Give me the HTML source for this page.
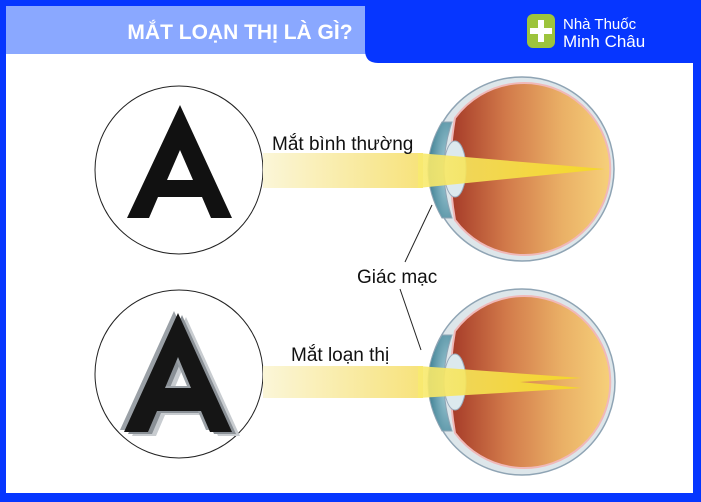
<!DOCTYPE html>
<html><head><meta charset="utf-8"><style>
body{margin:0;width:701px;height:502px;overflow:hidden;background:#0636ff;font-family:"Liberation Sans","Noto Sans CJK SC",sans-serif}
svg{display:block}
</style></head><body>
<svg width="701" height="502" viewBox="0 0 701 502" xmlns="http://www.w3.org/2000/svg">
<defs>
<linearGradient id="beam" x1="0" x2="1" y1="0" y2="0">
<stop offset="0" stop-color="#fbf6d8"/><stop offset="1" stop-color="#f7e27a"/></linearGradient>
<linearGradient id="inner" x1="0" x2="1" y1="0" y2="0">
<stop offset="0" stop-color="#a53a28"/><stop offset="0.35" stop-color="#d27a4a"/><stop offset="0.7" stop-color="#eab066"/><stop offset="1" stop-color="#f6d07a"/></linearGradient>
<linearGradient id="ray" x1="0" x2="1"><stop offset="0" stop-color="#f8ea70"/><stop offset="1" stop-color="#f5d820"/></linearGradient>
<radialGradient id="cor" cx="0.8" cy="0.5" r="0.9"><stop offset="0" stop-color="#a8d0dc"/><stop offset="1" stop-color="#2f7488"/></radialGradient>
</defs>
<rect width="701" height="502" fill="#0636ff"/>
<rect x="6" y="6" width="687" height="487" fill="#fff"/>
<rect x="6" y="6" width="362" height="48" fill="#8aa8ff"/>
<path d="M365 0 H701 V63 H378 Q365 63 365 50 Z" fill="#0636ff"/>
<text x="240" y="39" text-anchor="middle" font-size="21" font-weight="bold" fill="#fff">MẮT LOẠN THỊ LÀ GÌ?</text>
<rect x="527" y="14" width="28" height="34" rx="6" fill="#9dc43c"/>
<rect x="538" y="20" width="6" height="22" fill="#fff"/><rect x="530" y="28" width="22" height="6" fill="#fff"/>
<text x="563" y="29" font-size="15" fill="#fff">Nhà Thuốc</text>
<text x="563" y="47" font-size="17" fill="#fff">Minh Châu</text>

<circle cx="179" cy="170" r="84" fill="#fff" stroke="#222" stroke-width="1"/>
<circle cx="179" cy="374" r="84" fill="#fff" stroke="#222" stroke-width="1"/>
<path d="M180 105 L232 218 L211 218 L202 197 L158 197 L149 218 L127 218 Z M180 150 L167 180 L193 180 Z" fill="#111" fill-rule="evenodd"/>
<g fill-rule="evenodd">
<path d="M178 313 L232 432 L210 432 L201 411 L157 411 L148 432 L124 432 Z M178 357 L165 388 L191 388 Z" fill="#c8ccd0" transform="translate(8,4)"/>
<path d="M178 313 L232 432 L210 432 L201 411 L157 411 L148 432 L124 432 Z M178 357 L165 388 L191 388 Z" fill="#8a9096" transform="translate(4,2)"/>
<path d="M178 313 L232 432 L210 432 L201 411 L157 411 L148 432 L124 432 Z M178 357 L165 388 L191 388 Z" fill="#9aa0a6" transform="translate(-4,-2)"/>
<path d="M178 313 L232 432 L210 432 L201 411 L157 411 L148 432 L124 432 Z M178 357 L165 388 L191 388 Z" fill="#151515"/>
</g>

<rect x="263" y="153" width="160" height="35" fill="url(#beam)"/>
<rect x="263" y="366" width="160" height="32" fill="url(#beam)"/>

<g>
<circle cx="522" cy="169" r="92" fill="#dde6ea" stroke="#8fa4b4" stroke-width="1.5"/>
<path d="M442 122 Q414 169 442 218 L452 218 Q436 169 452 122 Z" fill="url(#cor)" stroke="#8fa4b4"/>
<path d="M455 118 A86 86 0 1 1 455 220 Q446 169 455 118 Z" fill="url(#inner)" stroke="#f0b8b8" stroke-width="2"/>
<ellipse cx="455" cy="169" rx="11" ry="28" fill="#dce9ee" stroke="#9ab"/>
<path d="M418 153 L605 169 L418 188 Z" fill="url(#ray)" opacity="0.9"/>
</g>
<g>
<circle cx="522" cy="382" r="93" fill="#dde6ea" stroke="#8fa4b4" stroke-width="1.5"/>
<path d="M442 335 Q414 382 442 431 L452 431 Q436 382 452 335 Z" fill="url(#cor)" stroke="#8fa4b4"/>
<path d="M455 331 A86 86 0 1 1 455 433 Q446 382 455 331 Z" fill="url(#inner)" stroke="#f0b8b8" stroke-width="2"/>
<ellipse cx="455" cy="382" rx="11" ry="28" fill="#dce9ee" stroke="#9ab"/>
<path d="M418 366 L582 378 L520 382 L582 388 L418 398 Z" fill="url(#ray)" opacity="0.9"/>
</g>

<text x="272" y="150" font-size="19" fill="#111">Mắt bình thường</text>
<text x="291" y="361" font-size="19" fill="#111">Mắt loạn thị</text>
<text x="357" y="283" font-size="19" fill="#111">Giác mạc</text>
<line x1="405" y1="262" x2="432" y2="205" stroke="#222" stroke-width="1"/>
<line x1="400" y1="289" x2="421" y2="350" stroke="#222" stroke-width="1"/>
</svg>
</body></html>
